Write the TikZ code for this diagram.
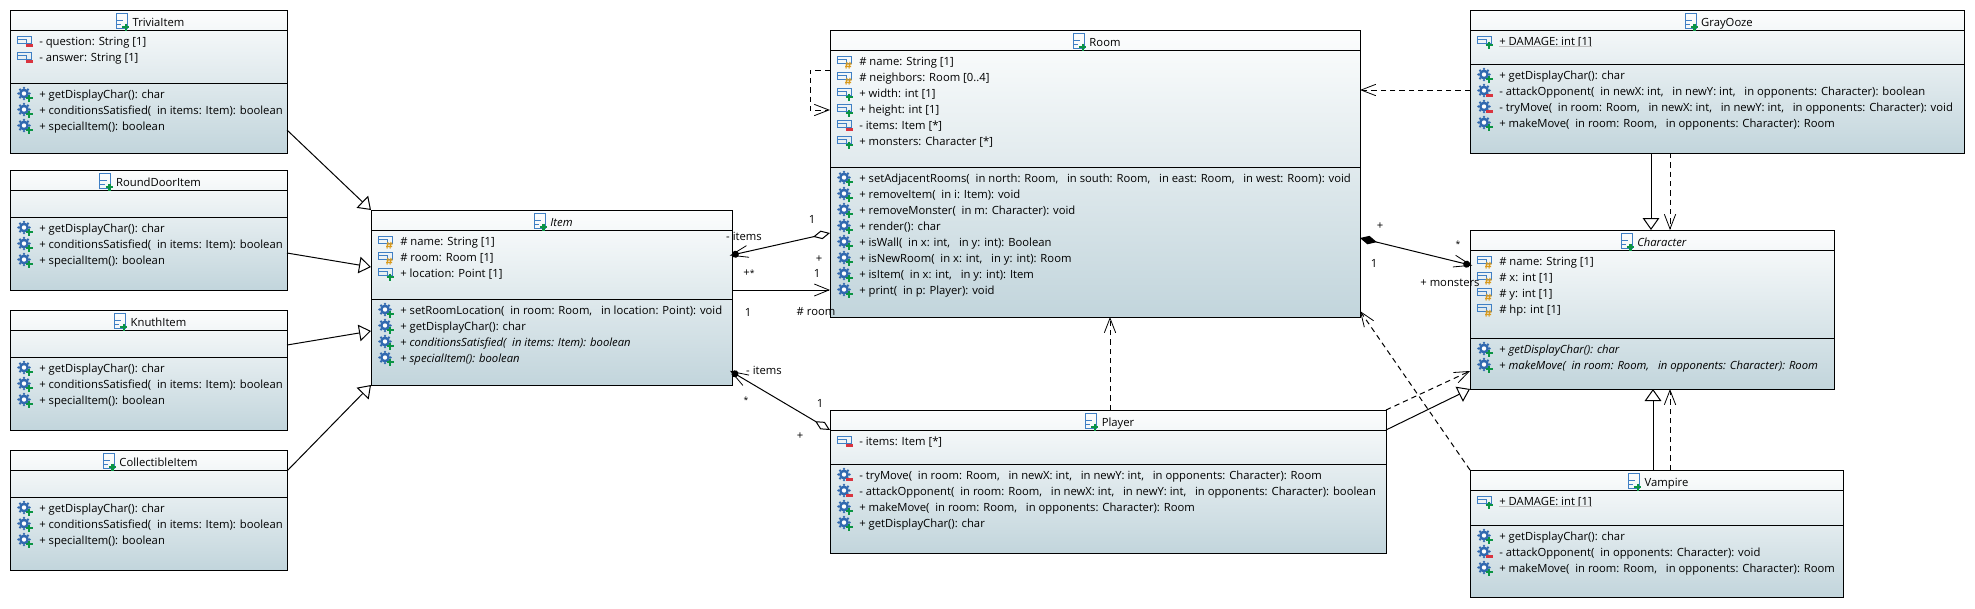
\documentclass[tikz,border=0pt]{standalone}
\usepackage{fontspec}
\setmainfont{Open Sans}
\usetikzlibrary{arrows.meta}

\definecolor{iconblue}{HTML}{3F7FC4}
\definecolor{gearblue}{HTML}{3169B0}
\definecolor{markgreen}{HTML}{0B9444}
\definecolor{markred}{HTML}{D9343F}
\definecolor{markorange}{HTML}{D99A1C}
\definecolor{boxtop}{HTML}{FCFDFD}
\definecolor{boxbottom}{HTML}{C2D5DC}

\newcommand{\markpub}{\draw[markgreen,line width=1.8pt] (8,4) -- (15,4) (11.5,.5) -- (11.5,7.5);}
\newcommand{\markpri}{\draw[markred,line width=1.8pt] (8,4.5) -- (15,4.5);}
\newcommand{\markpro}{\draw[markorange,line width=.8pt] (9.5,1) -- (8.5,7.5) (12.5,1) -- (11.5,7.5) (8,3) -- (14,3) (7.5,5.5) -- (13.5,5.5);}
\newcommand{\smallstar}{{\fontsize{6.5}{8}\selectfont *}}

\tikzset{
  pics/attricon/.style={code={
    \draw[iconblue,line width=.6pt] (0,-4.5) rectangle (14,2.5);
    \draw[iconblue,line width=.6pt] (0,-2) -- (9,-2) -- (9,2.5);
    \csname mark#1\endcsname
  }},
  pics/gearicon/.style={code={
    \begin{scope}[shift={(6.5,-.5)}]
      \foreach \a in {0,45,...,315} \fill[gearblue] (\a:5.6) circle (1.3);
      \fill[gearblue] (0,0) circle (5);
      \fill[white] (0,0) circle (2.2);
    \end{scope}
    \csname mark#1\endcsname
  }},
  pics/classicon/.style={code={
    \draw[iconblue,line width=.6pt] (0,-8.5) rectangle (11,6);
    \draw[iconblue,line width=.6pt] (0,-1.5) -- (7,-1.5) (0,2) -- (5,2);
    \draw[markgreen,line width=1.8pt] (6,5) -- (13,5) (9.5,1.5) -- (9.5,8.5);
  }}
}

% name, left, top, right, bottom, title rule, member rule, title
\newcommand{\classbox}[8]{
  \node[classbody,minimum width={(#4-#2)*.75pt},minimum height={(#5-#3)*.75pt}] (#1) at ({(#2+#4)/2},{(#3+#5)/2}) {};
  \draw[rule] (#2,#6) -- (#4+1,#6);
  \draw[rule] (#2,#7) -- (#4+1,#7);
  \node[title] (#1t) at ({(#2+#4)/2+10},{#3+16}) {#8};
  \pic at ([xshift=-12pt,yshift=3pt]#1t.base west) {classicon};
}
% name, left, first row, rows
\newcommand{\attrs}[4]{
  \foreach \vis/\txt [count=\i] in {#4} {
    \node[member] (#1a\i) at ({#2+29},{#3+(\i-1)*16+4}) {\txt};
    \pic at ({#2+7.5},{#3+(\i-1)*16}) {attricon=\vis};
  }
}
\newcommand{\opers}[4]{
  \foreach \vis/\txt [count=\i] in {#4} {
    \node[member] (#1o\i) at ({#2+29},{#3+(\i-1)*16+4}) {\txt};
    \pic at ({#2+7.5},{#3+(\i-1)*16}) {gearicon=\vis};
  }
}

\begin{document}
\begin{tikzpicture}[
    x=.75pt,y=-.75pt,
    every node/.style={font=\fontsize{8.45}{11}\selectfont},
    classbody/.style={draw,rectangle,line width=.75pt,outer sep=0pt,inner sep=0pt,top color=boxtop,bottom color=boxbottom},
    rule/.style={line width=.75pt},
    title/.style={anchor=base,inner sep=0pt},
    member/.style={anchor=base west,inner sep=0pt},
    lab/.style={anchor=base,inner sep=0pt},
    gen/.style={line width=.75pt,-{Triangle[open,fill=white,length=9pt,width=12.5pt]}},
    dep/.style={line width=.75pt,dash pattern=on 4pt off 3pt,-{Straight Barb[length=11pt,width=8.5pt,line width=.6pt]}},
    assoc/.style={line width=.75pt,-{Straight Barb[length=11pt,width=9pt,line width=.6pt]}},
    aggr/.style={line width=.75pt,{Diamond[open,fill=white,length=13pt,width=6.5pt]}-{Straight Barb[length=13pt,width=9pt,sep=-7pt,line width=.6pt]Circle[length=5.25pt,width=5.25pt]}},
    comp/.style={line width=.75pt,{Diamond[length=13pt,width=6.5pt]}-{Straight Barb[length=13pt,width=9pt,sep=-7pt,line width=.6pt]Circle[length=5.25pt,width=5.25pt]}}
  ]
  \useasboundingbox (0,0) rectangle (1975,608);

  %items
  \classbox{trivia}{10}{10}{287}{153}{30}{83}{TriviaItem}
  \attrs{trivia}{10}{41}{pri/{- question: String [1]},pri/{- answer: String [1]}}
  \opers{trivia}{10}{94}{pub/{+ getDisplayChar(): char},pub/{+ conditionsSatisfied( \ in items: Item): boolean},pub/{+ specialItem(): boolean}}

  \classbox{rounddoor}{10}{170}{287}{290}{190}{217}{RoundDoorItem}
  \opers{rounddoor}{10}{228}{pub/{+ getDisplayChar(): char},pub/{+ conditionsSatisfied( \ in items: Item): boolean},pub/{+ specialItem(): boolean}}

  \classbox{knuth}{10}{310}{287}{430}{330}{357}{KnuthItem}
  \opers{knuth}{10}{368}{pub/{+ getDisplayChar(): char},pub/{+ conditionsSatisfied( \ in items: Item): boolean},pub/{+ specialItem(): boolean}}

  \classbox{collectible}{10}{450}{287}{570}{470}{497}{CollectibleItem}
  \opers{collectible}{10}{508}{pub/{+ getDisplayChar(): char},pub/{+ conditionsSatisfied( \ in items: Item): boolean},pub/{+ specialItem(): boolean}}

  \classbox{item}{371}{210}{732}{385}{230}{299}{\textit{Item}}
  \attrs{item}{371}{241}{pro/{\# name: String [1]},pro/{\# room: Room [1]},pub/{+ location: Point [1]}}
  \opers{item}{371}{310}{pub/{+ setRoomLocation( \ in room: Room, \ \ in location: Point): void},pub/{+ getDisplayChar(): char},pub/{+ \textit{conditionsSatisfied( \ in items: Item): boolean}},pub/{+ \textit{specialItem(): boolean}}}

  %room and player
  \classbox{room}{830}{30}{1360}{317}{50}{167}{Room}
  \attrs{room}{830}{61}{pro/{\# name: String [1]},pro/{\# neighbors: Room [0..4]},pub/{+ width: int [1]},pub/{+ height: int [1]},pri/{- items: Item [*]},pub/{+ monsters: Character [*]}}
  \opers{room}{830}{178}{pub/{+ setAdjacentRooms( \ in north: Room, \ \ in south: Room, \ \ in east: Room, \ \ in west: Room): void},pub/{+ removeItem( \ in i: Item): void},pub/{+ removeMonster( \ in m: Character): void},pub/{+ render(): char},pub/{+ isWall( \ in x: int, \ \ in y: int): Boolean},pub/{+ isNewRoom( \ in x: int, \ \ in y: int): Room},pub/{+ isItem( \ in x: int, \ \ in y: int): Item},pub/{+ print( \ in p: Player): void}}

  \classbox{player}{830}{410}{1386}{553}{430}{464}{Player}
  \attrs{player}{830}{441}{pri/{- items: Item [*]}}
  \opers{player}{830}{475}{pri/{- tryMove( \ in room: Room, \ \ in newX: int, \ \ in newY: int, \ \ in opponents: Character): Room},pri/{- attackOpponent( \ in room: Room, \ \ in newX: int, \ \ in newY: int, \ \ in opponents: Character): boolean},pub/{+ makeMove( \ in room: Room, \ \ in opponents: Character): Room},pub/{+ getDisplayChar(): char}}

  %monsters
  \classbox{gray}{1470}{10}{1964}{153}{30}{64}{GrayOoze}
  \attrs{gray}{1470}{41}{pub/{+ DAMAGE: int [1]}}
  \opers{gray}{1470}{75}{pub/{+ getDisplayChar(): char},pri/{- attackOpponent( \ in newX: int, \ \ in newY: int, \ \ in opponents: Character): boolean},pri/{- tryMove( \ in room: Room, \ \ in newX: int, \ \ in newY: int, \ \ in opponents: Character): void},pub/{+ makeMove( \ in room: Room, \ \ in opponents: Character): Room}}
  \draw[black!25] ([yshift=-1pt]graya1.base west) -- ([yshift=-1pt]graya1.base east);

  \classbox{character}{1470}{230}{1834}{389}{250}{338}{\textit{Character}}
  \attrs{character}{1470}{261}{pro/{\# name: String [1]},pro/{\# x: int [1]},pro/{\# y: int [1]},pro/{\# hp: int [1]}}
  \opers{character}{1470}{349}{pub/{+ \textit{getDisplayChar(): char}},pub/{+ \textit{makeMove( \ in room: Room, \ \ in opponents: Character): Room}}}

  \classbox{vampire}{1470}{470}{1843}{597}{490}{525}{Vampire}
  \attrs{vampire}{1470}{501}{pub/{+ DAMAGE: int [1]}}
  \opers{vampire}{1470}{536}{pub/{+ getDisplayChar(): char},pri/{- attackOpponent( \ in opponents: Character): void},pub/{+ makeMove( \ in room: Room, \ \ in opponents: Character): Room}}
  \draw[black!25] ([yshift=-1pt]vampirea1.base west) -- ([yshift=-1pt]vampirea1.base east);

  %inheritance
  \draw[gen] (trivia.east |- 0,130) -- (item.west |- 0,210);
  \draw[gen] (rounddoor.east |- 0,253) -- (item.west |- 0,267);
  \draw[gen] (knuth.east |- 0,345) -- (item.west |- 0,331);
  \draw[gen] (collectible.east |- 0,471) -- (item.west |- 0,385);
  \draw[gen] (gray.south -| 1651,0) -- (character.north -| 1651,0);
  \draw[gen] (vampire.north -| 1653,0) -- (character.south -| 1653,0);
  \draw[gen] (player.east |- 0,430) -- (character.west |- 0,389);

  %dependencies
  \draw[dep] (room.west |- 0,70) -- (810,70) -- (810,110) -- (room.west |- 0,110);
  \draw[dep] (gray.west |- 0,90) -- (room.east |- 0,90);
  \draw[dep] (player.north -| 1110,0) -- (room.south -| 1110,0);
  \draw[dep] (gray.south -| 1670,0) -- (character.north -| 1670,0);
  \draw[dep] (vampire.north -| 1670,0) -- (character.south -| 1670,0);
  \draw[dep] (player.east |- 0,410) -- (character.west |- 0,371);
  \draw[dep] (vampire.west |- 0,470) -- (room.east |- 0,311);

  %associations
  \draw[assoc] (item.east |- 0,290) -- (room.west |- 0,290);
  \draw[aggr] (room.west |- 0,233) -- (item.east |- 0,255);
  \draw[aggr] (player.west |- 0,430) -- (item.east |- 0,372);
  \draw[comp] (room.east |- 0,238) -- (character.west |- 0,265);

  %labels
  \node[lab] (l1) at (744,240) {- items};
  \node[lab] (l2) at (812,223) {1};
  \node[lab] (l3) at (819,262) {+};
  \node[lab] (l4) at (749,276) {+\smallstar};
  \node[lab] (l5) at (817,277) {1};
  \node[lab] (l6) at (748,316) {1};
  \node[lab] (l7) at (816,315) {\# room};
  \node[lab] (l8) at (764,374) {- items};
  \node[lab] (l9) at (746,403) {\smallstar};
  \node[lab] (l10) at (820,407) {1};
  \node[lab] (l11) at (800,439) {+};
  \node[lab] (l12) at (1380,229) {+};
  \node[lab] (l13) at (1458,247) {\smallstar};
  \node[lab] (l14) at (1374,267) {1};
  \node[lab] (l15) at (1450,286) {+ monsters};
\end{tikzpicture}
\end{document}
